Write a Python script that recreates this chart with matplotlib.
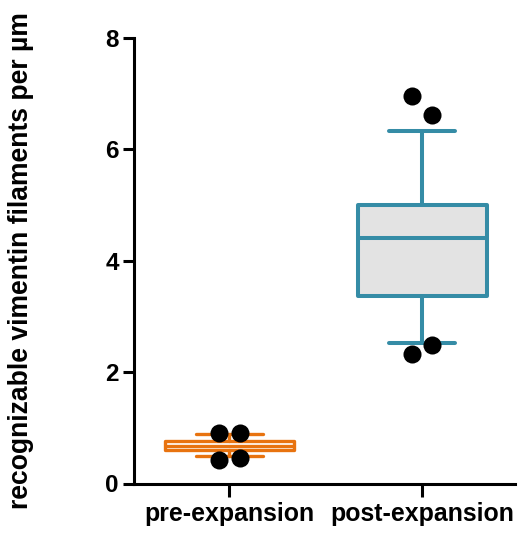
import matplotlib
matplotlib.use("Agg")
import matplotlib.pyplot as plt

categories = ["pre-expansion", "post-expansion"]
whisker_low = [0.49, 2.53]
q1 = [0.60, 3.36]
median = [0.68, 4.40]
q3 = [0.76, 5.01]
whisker_high = [0.88, 6.33]
points_pre = [0.90, 0.90, 0.42, 0.46]
points_post = [6.96, 6.62, 2.33, 2.48]
y_ticks = [0, 2, 4, 6, 8]

edge_colors = ["#E8730F", "#358CA6"]
face_colors = ["#FFFFFF", "#E3E3E3"]
point_offsets = [-0.052, 0.052, -0.052, 0.052]

plt.rcParams['font.family'] = ['Liberation Sans', 'DejaVu Sans']

fig = plt.figure(figsize=(5.21, 5.42), dpi=100)
ax = fig.add_axes([134/521, (542-483.5)/542, (515-134)/521, (483.5-38)/542])

for i in range(len(categories)):
    stats = [dict(whislo=whisker_low[i], q1=q1[i], med=median[i], q3=q3[i],
                  whishi=whisker_high[i], fliers=[], label=categories[i])]
    lw = 2.4 if i == 0 else 2.9
    ax.bxp(stats, positions=[i], widths=0.67, capwidths=0.345, patch_artist=True,
           showfliers=False, manage_ticks=False,
           boxprops=dict(facecolor=face_colors[i], edgecolor=edge_colors[i], linewidth=lw, joinstyle='round'),
           medianprops=dict(color=edge_colors[i], linewidth=lw, solid_capstyle='butt'),
           whiskerprops=dict(color=edge_colors[i], linewidth=lw, solid_capstyle='round'),
           capprops=dict(color=edge_colors[i], linewidth=lw, solid_capstyle='round'))

for i, pts in enumerate([points_pre, points_post]):
    xs = [i + point_offsets[k] for k in range(len(pts))]
    ax.scatter(xs, pts, s=13**2, color='black', zorder=4, linewidths=0)

ax.set_xlim(-0.496, 1.483)
ax.set_ylim(0, 8)
ax.set_yticks(y_ticks)
ax.set_yticklabels([str(t) for t in y_ticks], fontsize=17.5, fontweight='bold')
ax.set_xticks(range(len(categories)))
ax.set_xticklabels(categories, fontsize=17.9, fontweight='bold')
ax.spines['top'].set_visible(False)
ax.spines['right'].set_visible(False)
for s in ['left', 'bottom']:
    ax.spines[s].set_linewidth(2.2)
ax.tick_params(axis='y', length=8, width=2.2, pad=3)
ax.tick_params(axis='x', length=9.5, width=2.2, pad=4)
ax.set_ylabel("recognizable vimentin filaments per µm", fontsize=19.1, fontweight='bold')
ax.yaxis.set_label_coords(-0.262, 0.5)

fig.savefig("out.png", dpi=100)
